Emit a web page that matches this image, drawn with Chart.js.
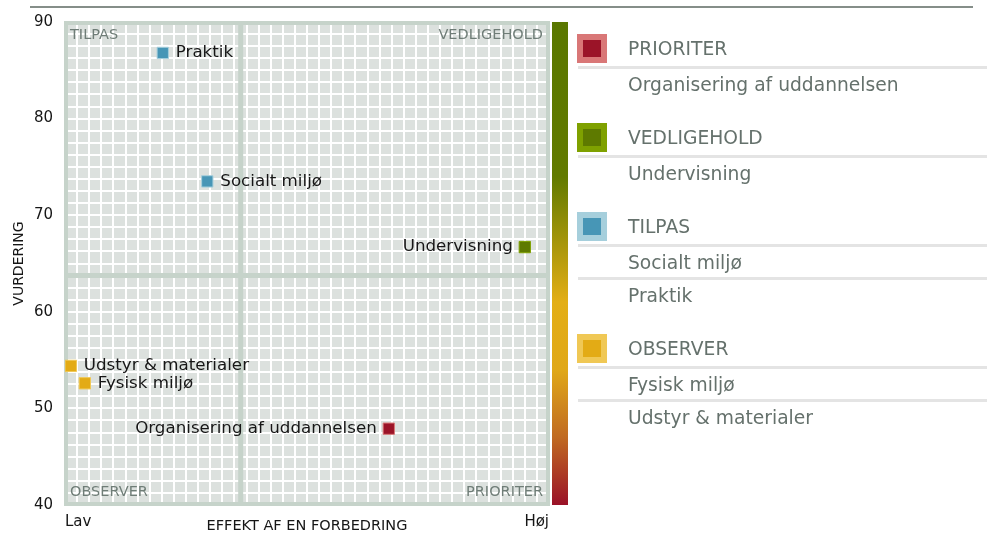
<!DOCTYPE html>
<html>
<head>
<meta charset="utf-8">
<script src="https://cdn.jsdelivr.net/npm/chart.js@4.4.1/dist/chart.umd.min.js"></script>
<style>
  body { margin: 0; background: #fff; font-family: "DejaVu Sans", sans-serif; }
  #wrap { position: relative; width: 987px; height: 534px; overflow: hidden; }
  #topline { position: absolute; left: 30px; top: 6px; width: 943px; height: 2px; background: #858e89; }
  #legend { position: absolute; left: 0; top: 0; }
  .sw { position: absolute; width: 18px; height: 17px; border: 6px solid; }
  .lt { position: absolute; left: 628px; font-size: 18.7px; color: #65716c; line-height: 22px; white-space: nowrap; }
  .ln { position: absolute; left: 578px; width: 409px; height: 3px; background: #e4e4e4; }
</style>
</head>
<body>
<div id="wrap">
  <canvas id="matrix" width="987" height="534"></canvas>
  <div id="topline"></div>
  <div id="legend"></div>
</div>
<script>
// data
const names = ['Praktik', 'Socialt miljø', 'Undervisning', 'Udstyr & materialer', 'Fysisk miljø', 'Organisering af uddannelsen'];
const effekt = [20.2, 29.4, 95.0, 1.2, 4.1, 66.9];
const vurdering = [86.8, 73.5, 66.7, 54.4, 52.6, 47.9];
const gruppe = ['TILPAS', 'TILPAS', 'VEDLIGEHOLD', 'OBSERVER', 'OBSERVER', 'PRIORITER'];

const grupper = ['PRIORITER', 'VEDLIGEHOLD', 'TILPAS', 'OBSERVER'];
const gruppeFarve = ['#9b1428', '#5e7a00', '#4796b6', '#e3ab15'];
const gruppeLys = ['#d97777', '#7fa100', '#a6cfdc', '#f0c855'];

const midEffekt = 36.3;
const midVurdering = 63.75;
const yTicks = [40, 50, 60, 70, 80, 90];
const xLabels = ['Lav', 'Høj'];

const FONT = '"DejaVu Sans", sans-serif';

function colorOf(i, light) {
    const g = grupper.indexOf(gruppe[i]);
    return light ? gruppeLys[g] : gruppeFarve[g];
}

// background, border, quadrant names and colour bar
const framePlugin = {
    id: 'frame',
    beforeDraw(chart) {
        const { ctx, chartArea: a } = chart;
        ctx.save();
        ctx.fillStyle = '#dce1de';
        ctx.fillRect(a.left, a.top, a.right - a.left, a.bottom - a.top);
        ctx.restore();
    },
    beforeDatasetsDraw(chart) {
        const { ctx, chartArea: a } = chart;
        ctx.save();
        ctx.strokeStyle = '#c6d3ca';
        ctx.lineWidth = 4;
        ctx.strokeRect(a.left + 1, a.top + 1, a.right - a.left - 2, a.bottom - a.top - 2);

        ctx.font = '14.5px ' + FONT;
        ctx.fillStyle = '#6f7d77';
        ctx.textBaseline = 'middle';
        ctx.textAlign = 'left';
        ctx.fillText(grupper[2], a.left + 5, a.top + 13);
        ctx.fillText(grupper[3], a.left + 5, a.bottom - 13);
        ctx.textAlign = 'right';
        ctx.fillText(grupper[1], a.right - 6, a.top + 13);
        ctx.fillText(grupper[0], a.right - 6, a.bottom - 13);

        const grad = ctx.createLinearGradient(0, a.top, 0, a.bottom);
        grad.addColorStop(0, '#5a7700');
        grad.addColorStop(0.32, '#627a00');
        grad.addColorStop(0.58, '#e3ae15');
        grad.addColorStop(0.72, '#e0a818');
        grad.addColorStop(0.86, '#c06a22');
        grad.addColorStop(1, '#9a1228');
        ctx.fillStyle = grad;
        ctx.fillRect(a.right + 3, a.top, 16, a.bottom - a.top);
        ctx.restore();
    },
    afterDatasetsDraw(chart) {
        const { ctx } = chart;
        const meta = chart.getDatasetMeta(0);
        ctx.save();
        ctx.font = '16.7px ' + FONT;
        ctx.fillStyle = '#161616';
        ctx.textBaseline = 'middle';
        meta.data.forEach((pt, i) => {
            if (effekt[i] > 50) {
                ctx.textAlign = 'right';
                ctx.fillText(names[i], pt.x - 12, pt.y);
            } else {
                ctx.textAlign = 'left';
                ctx.fillText(names[i], pt.x + 13, pt.y);
            }
        });
        ctx.restore();
    }
};

new Chart(document.getElementById('matrix').getContext('2d'), {
    type: 'scatter',
    data: {
        datasets: [{
            data: effekt.map((x, i) => ({ x: x, y: vurdering[i] })),
            pointStyle: 'rect',
            pointRadius: 8,
            pointBackgroundColor: names.map((n, i) => colorOf(i, false)),
            pointBorderColor: names.map((n, i) => colorOf(i, true)),
            pointBorderWidth: 1,
            order: 0
        }, {
            data: [{ x: midEffekt, y: 40 }, { x: midEffekt, y: 90 }],
            showLine: true,
            borderColor: '#c6d3ca',
            borderWidth: 5,
            pointRadius: 0,
            order: 1
        }, {
            data: [{ x: 0, y: midVurdering }, { x: 100, y: midVurdering }],
            showLine: true,
            borderColor: '#c6d3ca',
            borderWidth: 5,
            pointRadius: 0,
            order: 1
        }]
    },
    options: {
        responsive: false,
        animation: false,
        layout: { padding: { top: 22, right: 438, bottom: 0, left: 0 } },
        plugins: {
            legend: { display: false },
            tooltip: { enabled: false }
        },
        scales: {
            x: {
                type: 'linear',
                min: 0,
                max: 100,
                afterFit: s => { s.height = 29; },
                border: { display: false },
                grid: { color: '#ffffff', lineWidth: 2, drawTicks: false },
                ticks: {
                    stepSize: 2.5,
                    autoSkip: false,
                    maxRotation: 0,
                    align: 'inner',
                    padding: 8,
                    color: '#161616',
                    font: { family: FONT, size: 15 },
                    callback: v => v === 0 ? xLabels[0] : (v === 100 ? xLabels[1] : '')
                },
                title: {
                    display: true,
                    text: 'EFFEKT AF EN FORBEDRING',
                    color: '#161616',
                    font: { family: FONT, size: 14.5 },
                    padding: { top: 0, bottom: -1 }
                }
            },
            y: {
                min: 40,
                max: 90,
                afterFit: s => { s.width = 65; },
                border: { display: false },
                grid: { color: '#ffffff', lineWidth: 2, drawTicks: false },
                ticks: {
                    stepSize: 1.25,
                    autoSkip: false,
                    padding: 12,
                    color: '#161616',
                    font: { family: FONT, size: 15 },
                    callback: v => yTicks.includes(v) ? String(v) : ''
                },
                title: {
                    display: true,
                    text: 'VURDERING',
                    color: '#161616',
                    font: { family: FONT, size: 14 },
                    padding: { top: 11, bottom: 0 }
                }
            }
        }
    },
    plugins: [framePlugin]
});

// legend on the right
function buildLegend() {
    const legend = document.getElementById('legend');
    let top = 34;
    grupper.forEach((g, gi) => {
        const sw = document.createElement('div');
        sw.className = 'sw';
        sw.style.left = '577px';
        sw.style.top = top + 'px';
        sw.style.background = gruppeFarve[gi];
        sw.style.borderColor = gruppeLys[gi];
        legend.appendChild(sw);

        const head = document.createElement('div');
        head.className = 'lt';
        head.textContent = g;
        head.style.top = (top + 4) + 'px';
        legend.appendChild(head);

        const members = names.map((n, i) => i)
            .filter(i => gruppe[i] === g)
            .sort((a, b) => effekt[b] - effekt[a]);
        let y = top + 32;
        members.forEach(i => {
            const ln = document.createElement('div');
            ln.className = 'ln';
            ln.style.top = y + 'px';
            legend.appendChild(ln);
            const t = document.createElement('div');
            t.className = 'lt';
            t.textContent = names[i];
            t.style.top = (y + 8) + 'px';
            legend.appendChild(t);
            y += 33;
        });
        top += 56 + 33 * members.length;
    });
}
buildLegend();
</script>
</body>
</html>
